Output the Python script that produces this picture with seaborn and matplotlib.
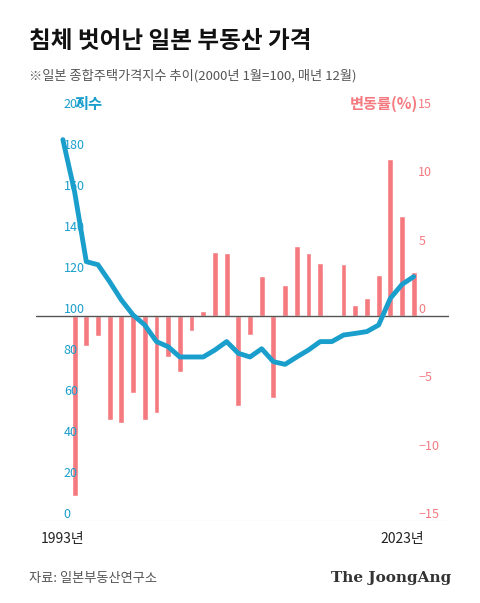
import numpy as np
import pandas as pd
import seaborn as sns
from matplotlib import pyplot as plt

years = list(range(1993, 2024))
index_vals = [186, 160.6, 126.5, 125, 116.7, 107.8, 100.5, 95.6, 87.5, 85, 80, 80, 80, 83.4, 87.5,
              81.8, 80, 84, 77.7, 76.4, 80, 83.4, 87.5, 87.5, 90.7, 91.5, 92.4, 95.6, 108.6, 115.4, 119.2]
bar_years = list(range(1994, 2024))
change = [-13.2, -2.2, -1.5, -7.6, -7.8, -5.6, -7.6, -7.1, -3.0, -4.1, -1.1, 0.4, 4.7, 4.6, -6.6,
          -1.4, 2.9, -6.0, 2.3, 5.1, 4.6, 3.9, 0.0, 3.8, 0.8, 1.3, 3.0, 11.5, 7.3, 3.2]

blue = "#1a9fcc"
pink = "#f47a80"

sns.set_theme(style="white")
plt.rcParams['font.family'] = ['Noto Sans CJK KR', 'DejaVu Sans']

fig = plt.figure(figsize=(4.8, 6.03), dpi=100)
ax = fig.add_axes([0.075, 0.136, 0.86, 0.68])
ax2 = ax.twinx()

line_df = pd.DataFrame({"year": years, "index": index_vals})
bar_df = pd.DataFrame({"year": bar_years, "change": change})

ax2.bar(bar_df["year"], bar_df["change"], width=0.5, color=pink, zorder=2)
ax2.axhline(0, color="#555555", lw=1)
ax2.set_ylim(-15, 15)
ax2.set_yticks([-15, -10, -5, 0, 5, 10, 15])
ax2.tick_params(axis="y", colors=pink, labelsize=9, length=0, pad=-22)
for lab in ax2.get_yticklabels():
    lab.set_verticalalignment("bottom")

ax.set_zorder(ax2.get_zorder() + 1)
ax.patch.set_visible(False)
sns.lineplot(data=line_df, x="year", y="index", ax=ax, color=blue, lw=3.5, zorder=3)
ax.set_ylim(0, 200)
ax.set_yticks(range(0, 201, 20))
ax.tick_params(axis="y", colors=blue, labelsize=9, length=0, pad=-20)
for lab in ax.get_yticklabels():
    lab.set_verticalalignment("bottom")
    lab.set_horizontalalignment("left")
ax.set_xlim(1990.7, 2026)
ax.set_xticks([1993, 2022])
ax.set_xticklabels(["1993년", "2023년"], fontsize=10, color="#222222")
ax.tick_params(axis="x", length=0, pad=8)
ax.set_xlabel("")
ax.set_ylabel("")
for a in (ax, ax2):
    for s in a.spines.values():
        s.set_visible(False)
ax.axhline(0, color="#cccccc", lw=0.8)

fig.text(0.155, 0.82, "지수", color=blue, fontsize=11, fontweight="bold")
fig.text(0.87, 0.82, "변동률(%)", color=pink, fontsize=11, fontweight="bold", ha="right")
fig.text(0.06, 0.92, "침체 벗어난 일본 부동산 가격", fontsize=17, fontweight="bold", color="#111111")
fig.text(0.06, 0.868, "※일본 종합주택가격지수 추이(2000년 1월=100, 매년 12월)", fontsize=9.5, color="#555555")
fig.text(0.06, 0.035, "자료: 일본부동산연구소", fontsize=9.5, color="#555555")
fig.text(0.94, 0.035, "The JoongAng", fontsize=11, fontweight="bold", color="#333333",
         ha="right", family="DejaVu Serif")

fig.savefig("out.png", dpi=100)
